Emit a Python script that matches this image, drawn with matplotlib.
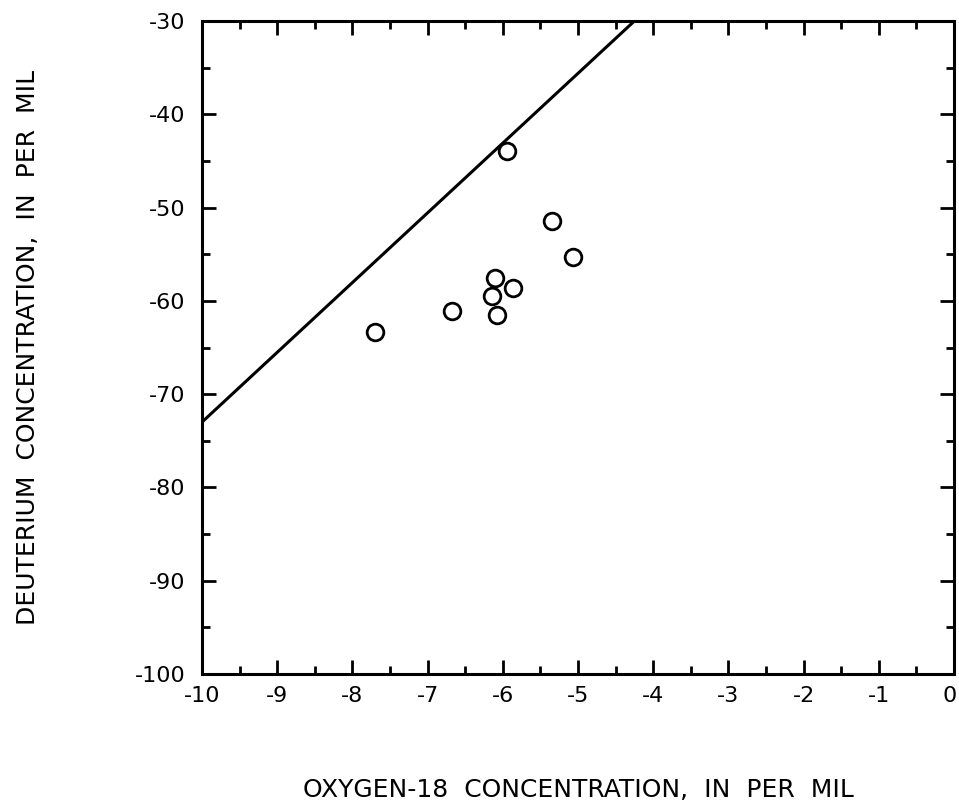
import numpy as np
import matplotlib
matplotlib.use("Agg")
import matplotlib.pyplot as plt
import matplotlib.transforms as mtransforms
from matplotlib.ticker import MultipleLocator

# sample points (oxygen-18 vs deuterium, per mil)
oxygen18 = [-5.94, -5.34, -5.06, -6.11, -5.86, -6.14, -6.08, -6.68, -7.70]
deuterium = [-43.9, -51.4, -55.3, -57.6, -58.6, -59.5, -61.5, -61.1, -63.3]

# reference line, drawn between its two ends
line_x = [-10.0, -4.25]
line_y = [-73.0, -30.0]

x_ticks = list(range(-10, 1))
y_ticks = list(range(-100, -29, 10))

plt.rcParams['font.family'] = ['DejaVu Sans']
plt.rcParams['axes.unicode_minus'] = False

fig = plt.figure(figsize=(9.59, 8.09), dpi=100)
ax = fig.add_axes([0.2106, 0.1669, 0.7842, 0.8071])

ax.plot(line_x, line_y, color='black', linewidth=2.2, solid_capstyle='butt')
ax.plot(oxygen18, deuterium, linestyle='none', marker='o', markersize=12,
        markerfacecolor='white', markeredgecolor='black', markeredgewidth=2.0,
        zorder=3)

ax.set_xlim(-10, 0)
ax.set_ylim(-100, -30)
ax.set_xticks(x_ticks)
ax.set_yticks(y_ticks)
ax.xaxis.set_minor_locator(MultipleLocator(0.5))
ax.yaxis.set_minor_locator(MultipleLocator(5))

ax.tick_params(which='both', direction='in', top=True, right=True,
               width=2.0, colors='black', labelsize=16)
ax.tick_params(which='major', length=10)
ax.tick_params(which='minor', length=6)
ax.tick_params(axis='x', which='major', pad=9)
ax.tick_params(axis='y', which='major', pad=12)

for sp in ax.spines.values():
    sp.set_linewidth(2.2)

# nudge the last x label ("0") so it stays inside the figure
last = ax.get_xticklabels()[-1]
last.set_transform(last.get_transform() +
                   mtransforms.ScaledTranslation(-4 / 100, 0, fig.dpi_scale_trans))

ax.set_xlabel('OXYGEN-18  CONCENTRATION,  IN  PER  MIL', fontsize=18)
ax.set_ylabel('DEUTERIUM  CONCENTRATION,  IN  PER  MIL', fontsize=18)
ax.xaxis.set_label_coords(0.5, -0.16)
ax.yaxis.set_label_coords(-0.215, 0.5)

fig.savefig('out.png', dpi=100)
